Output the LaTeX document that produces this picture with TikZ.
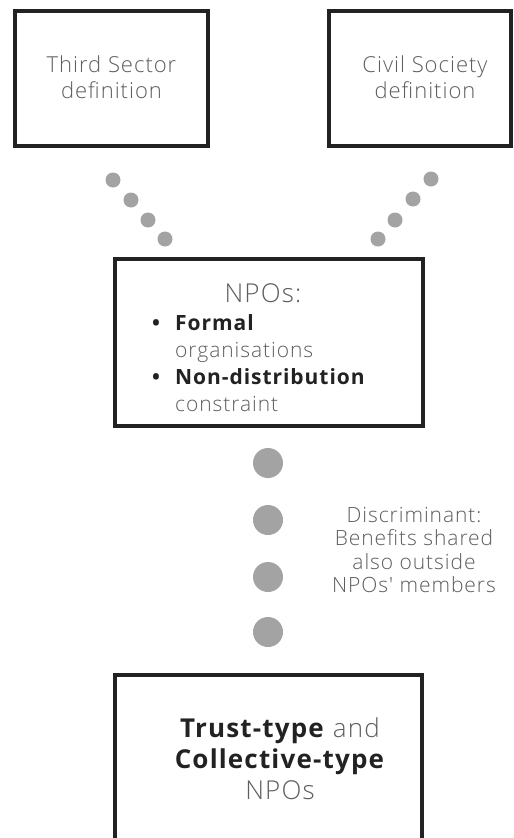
\documentclass[tikz,border=0pt]{standalone}
\usepackage{fontspec}
\setmainfont{Open Sans Light}[BoldFont={Open Sans Bold}, LetterSpace=4.5]
% same face without TeX ligatures, for a straight apostrophe
\newfontfamily\straightlight{Open Sans Light}[LetterSpace=4.5, Ligatures=ResetAll]
\begin{document}
\begin{tikzpicture}[x=1pt,y=-1pt,
  frame/.style={draw=boxline, line width=4pt, inner sep=0pt},
  smalldot/.style={fill=dotgray, circle, inner sep=0pt, minimum size=15pt},
  bigdot/.style={fill=dotgray, circle, inner sep=0pt, minimum size=30pt},
  lighttxt/.style={text=lighttext, align=center, inner sep=0pt},
]
\definecolor{boxline}{HTML}{222222}
\definecolor{lighttext}{HTML}{5E5E5E}
\definecolor{darktext}{HTML}{222222}
\definecolor{dotgray}{HTML}{A3A3A3}
\clip (0,0) rectangle (514,838);
\fill[white] (0,0) rectangle (514,838);

% source definitions
\node[frame, minimum width=193pt, minimum height=135pt] (third) at (111.5,78.5) {};
\node[lighttxt, font=\fontsize{22}{26.5}\selectfont] (thirdtext)
  at ([yshift=1.5pt]third.center) {Third Sector\\definition};
\node[frame, minimum width=182pt, minimum height=135pt] (civil) at (420,78.5) {};
\node[lighttxt, font=\fontsize{22}{26.5}\selectfont] (civiltext)
  at ([xshift=5pt,yshift=1.5pt]civil.center) {Civil Society\\definition};

% NPO box
\node[frame, minimum width=308pt, minimum height=167pt] (npo) at (269,342.5) {};
\node[lighttxt, font=\fontsize{26}{28}\selectfont] (npotitle) at (263,293) {NPOs:};
\node[lighttxt, align=left, anchor=west, font=\fontsize{21}{27}\selectfont]
  (npolist) at (152,363)
  {\makebox[23pt][l]{\textcolor{darktext}{\textbf{\textbullet}}}\textcolor{darktext}{\textbf{Formal}}\\
   \hspace*{23pt}organisations\\
   \makebox[23pt][l]{\textcolor{darktext}{\textbf{\textbullet}}}\textcolor{darktext}{\textbf{Non-distribution}}\\
   \hspace*{23pt}constraint};

% dotted links from the definitions to the NPO box
\foreach \x/\y [count=\i] in {113/180,131/200,148/220,165/239}
  \node[smalldot] (tl\i) at (\x,\y) {};
\foreach \x/\y [count=\i] in {431/179,413/199,395/220,378/239}
  \node[smalldot] (cr\i) at (\x,\y) {};

% discriminant link
\foreach \y [count=\i] in {463,520,577,632}
  \node[bigdot] (v\i) at (268,\y) {};
\node[lighttxt, font=\fontsize{21}{23.5}\selectfont] (disc) at (414,550)
  {Discriminant:\\Benefits shared\\also outside\\{\straightlight NPOs' members}};

% resulting NPO types
\node[frame, minimum width=307pt, minimum height=225pt] (types) at (268.5,787.5) {};
\node[lighttxt, font=\fontsize{26}{31}\selectfont] (typestext) at (280,759)
  {\textcolor{darktext}{\textbf{Trust-type}} and\\
   \textcolor{darktext}{\textbf{Collective-type}}\\NPOs};
\end{tikzpicture}
\end{document}
